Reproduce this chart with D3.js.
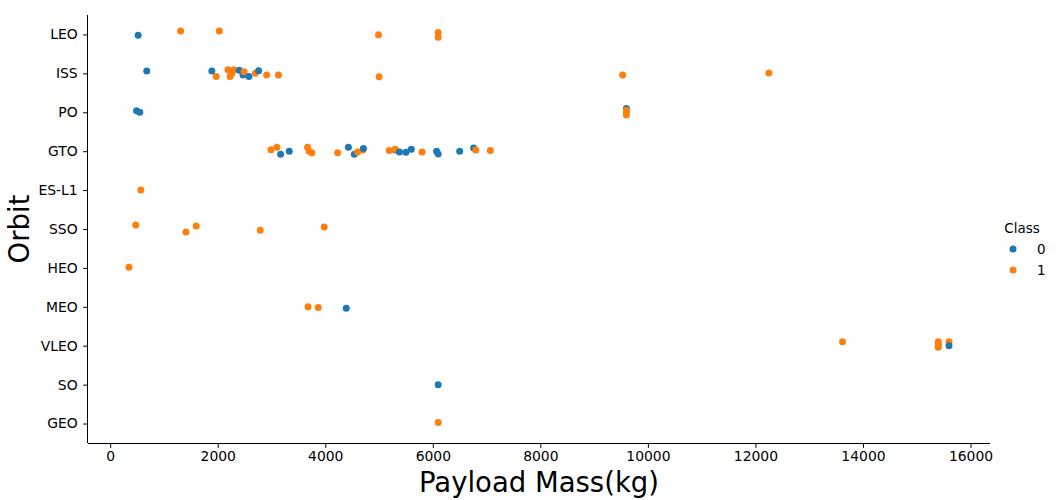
<!DOCTYPE html>
<html>
<head>
<meta charset="utf-8">
<script src="https://cdn.jsdelivr.net/npm/d3@7"></script>
<style>
  body { margin: 0; background: #fff; }
  svg { font-family: "DejaVu Sans", sans-serif; }
</style>
</head>
<body>
<svg id="chart" width="1058" height="500"></svg>
<script>
// orbit categories in plot order (top to bottom)
const orbits = ["LEO", "ISS", "PO", "GTO", "ES-L1", "SSO", "HEO", "MEO", "VLEO", "SO", "GEO"]
const xTicks = [0, 2000, 4000, 6000, 8000, 10000, 12000, 14000, 16000]
const classes = [0, 1]
const classColors = ["#1f77b4", "#ff7f0e"]

// one entry per launch (jitter = vertical strip offset in category units)
const orbit = [
  "LEO","LEO","LEO","LEO","LEO","LEO",
  "ISS","ISS","ISS","ISS","ISS","ISS","ISS","ISS","ISS","ISS","ISS","ISS","ISS","ISS","ISS","ISS","ISS","ISS",
  "PO","PO","PO","PO","PO","PO",
  "GTO","GTO","GTO","GTO","GTO","GTO","GTO","GTO","GTO","GTO","GTO","GTO","GTO","GTO","GTO","GTO","GTO","GTO","GTO","GTO","GTO","GTO","GTO","GTO","GTO","GTO",
  "ES-L1",
  "SSO","SSO","SSO","SSO","SSO",
  "HEO",
  "MEO","MEO","MEO",
  "VLEO","VLEO","VLEO","VLEO","VLEO","VLEO","VLEO",
  "SO",
  "GEO"
]
const payload = [
  520, 1310, 2030, 4990, 6100, 6100,
  680, 1890, 1970, 2190, 2230, 2260, 2300, 2400, 2470, 2490, 2580, 2700, 2760, 2910, 3130, 5000, 9530, 12250,
  490, 550, 9600, 9600, 9600, 9600,
  2990, 3100, 3170, 3330, 3670, 3700, 3750, 4230, 4430, 4540, 4600, 4700, 4710, 5300, 5190, 5300, 5380, 5500, 5600, 5800, 6070, 6100, 6500, 6760, 6800, 7070,
  570,
  475, 1410, 1600, 2790, 3980,
  350,
  3680, 3870, 4390,
  13620, 15400, 15400, 15400, 15400, 15600, 15600,
  6100,
  6100
]
const cls = [
  0, 1, 1, 1, 1, 1,
  0, 0, 1, 1, 1, 1, 1, 0, 0, 1, 0, 1, 0, 1, 1, 1, 1, 1,
  0, 0, 0, 1, 1, 1,
  1, 1, 0, 0, 1, 1, 1, 1, 0, 0, 1, 1, 0, 0, 1, 1, 0, 0, 0, 1, 0, 0, 0, 0, 1, 1,
  1,
  1, 1, 1, 1, 1,
  1,
  1, 1, 0,
  1, 1, 1, 1, 1, 1, 0,
  0,
  1
]
const jitter = [
  0.02, -0.09, -0.09, 0.01, -0.05, 0.07,
  -0.06, -0.06, 0.08, -0.09, 0.08, 0.0, -0.09, -0.08, 0.04, -0.04, 0.08, 0.0, -0.07, 0.04, 0.04, 0.09, 0.04, -0.01,
  -0.04, 0.0, -0.1, -0.05, 0.01, 0.07,
  -0.04, -0.1, 0.08, 0.0, -0.1, 0.0, 0.04, 0.04, -0.1, 0.08, 0.02, -0.03, -0.07, -0.03, -0.02, -0.05, 0.02, 0.03, -0.05, 0.02, 0.0, 0.07, 0.0, -0.08, -0.03, -0.02,
  0.0,
  -0.1, 0.08, -0.08, 0.03, -0.05,
  -0.02,
  0.0, 0.02, 0.04,
  -0.1, -0.1, -0.05, 0.0, 0.04, -0.1, 0.0,
  0.0,
  -0.03
]

const svg = d3.select("#chart")
const mLeft = 88, mRight = 990, mTop = 15, mBottom = 443

// matplotlib-style 5% margin around the data
const xmin = d3.min(payload), xmax = d3.max(payload)
const pad = (xmax - xmin) * 0.05
const x = d3.scaleLinear().domain([xmin - pad, xmax + pad]).range([mLeft, mRight])

const y = d3.scaleLinear().domain([-0.5, orbits.length - 0.5]).range([mTop, mBottom])
const color = d3.scaleOrdinal().domain(classes).range(classColors)

// points
svg.append("g").selectAll("circle")
  .data(payload.map((p, i) => ({ p: p, o: orbit[i], c: cls[i], j: jitter[i] })))
  .enter()
  .append("circle")
    .attr("cx", d => x(d.p))
    .attr("cy", d => y(orbits.indexOf(d.o) + d.j))
    .attr("r", 3.5)
    .attr("fill", d => color(d.c))

// x axis
const xAxis = svg.append("g")
  .attr("transform", "translate(0," + mBottom + ")")
  .call(d3.axisBottom(x).tickValues(xTicks).tickFormat(d3.format("d")).tickSizeOuter(0).tickSize(4.9).tickPadding(3.5))

// y axis
const yAxis = svg.append("g")
  .attr("transform", "translate(" + mLeft + ",0)")
  .call(d3.axisLeft(y).tickValues(d3.range(orbits.length)).tickFormat(i => orbits[i]).tickSizeOuter(0).tickSize(4.9).tickPadding(5.5))

// stretch the spines to the full axes box
xAxis.select(".domain").attr("d", "M" + mLeft + ",0.5H" + mRight)
yAxis.select(".domain").attr("d", "M-0.5," + mTop + "V" + mBottom)

svg.selectAll(".tick text").attr("font-size", 13.9).attr("font-family", "DejaVu Sans").attr("fill", "#000")
svg.selectAll(".domain, .tick line").attr("stroke", "#000").attr("stroke-width", 1)

// axis titles
svg.append("text")
  .attr("x", (mLeft + mRight) / 2).attr("y", 492)
  .attr("text-anchor", "middle")
  .attr("font-size", 27.5)
  .text("Payload Mass(kg)")

svg.append("text")
  .attr("transform", "translate(29," + (mTop + mBottom) / 2 + ") rotate(-90)")
  .attr("text-anchor", "middle")
  .attr("font-size", 27.5)
  .text("Orbit")

// legend
const legend = svg.append("g").attr("transform", "translate(1000,233)")
legend.append("text")
  .attr("x", 22).attr("y", 0)
  .attr("text-anchor", "middle")
  .attr("font-size", 13.5)
  .text("Class")

legend.selectAll("g.item")
  .data(classes)
  .enter()
  .append("g")
    .attr("class", "item")
    .attr("transform", (d, i) => "translate(0," + (16 + i * 21) + ")")
    .each(function(d) {
      const g = d3.select(this)
      g.append("circle").attr("cx", 13).attr("cy", 0).attr("r", 3.5).attr("fill", color(d))
      g.append("text").attr("x", 37).attr("y", 5).attr("font-size", 13.5).text(d)
    })
</script>
</body>
</html>
